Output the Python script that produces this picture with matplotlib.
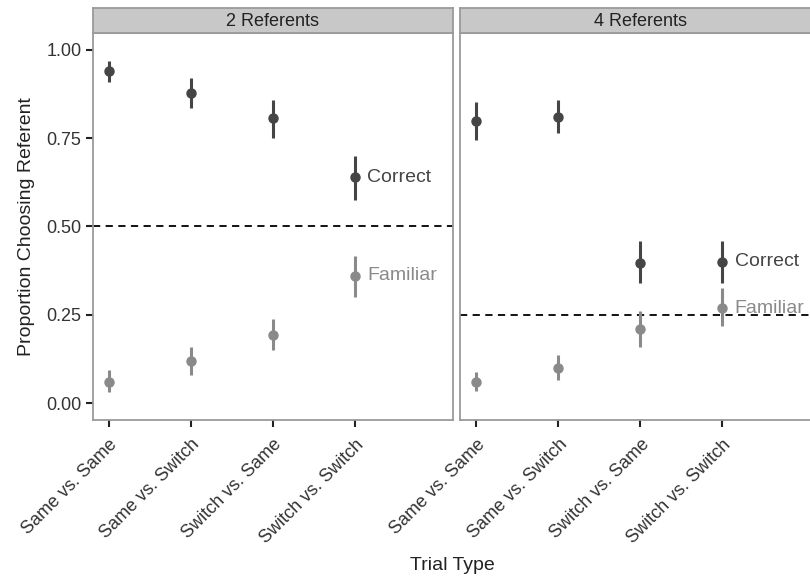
import matplotlib.pyplot as plt
import numpy as np

plt.rcParams['font.family'] = ['Liberation Sans', 'DejaVu Sans']

trial_types = ['Same vs. Same', 'Same vs. Switch', 'Switch vs. Same', 'Switch vs. Switch']
panels = ['2 Referents', '4 Referents']
chance = [0.5, 0.25]

# 2 referents
correct_2 = [0.94, 0.878, 0.807, 0.64]
correct_2_lo = [0.91, 0.835, 0.75, 0.575]
correct_2_hi = [0.97, 0.92, 0.858, 0.70]
familiar_2 = [0.06, 0.12, 0.193, 0.36]
familiar_2_lo = [0.031, 0.08, 0.15, 0.30]
familiar_2_hi = [0.093, 0.16, 0.237, 0.416]

# 4 referents
correct_4 = [0.80, 0.81, 0.398, 0.40]
correct_4_lo = [0.745, 0.765, 0.34, 0.34]
correct_4_hi = [0.853, 0.857, 0.46, 0.46]
familiar_4 = [0.06, 0.098, 0.21, 0.268]
familiar_4_lo = [0.033, 0.065, 0.16, 0.217]
familiar_4_hi = [0.087, 0.136, 0.262, 0.325]

series = [
    [(correct_2, correct_2_lo, correct_2_hi), (familiar_2, familiar_2_lo, familiar_2_hi)],
    [(correct_4, correct_4_lo, correct_4_hi), (familiar_4, familiar_4_lo, familiar_4_hi)],
]
series_names = ['Correct', 'Familiar']
series_colors = ['#454545', '#8a8a8a']

fig = plt.figure(figsize=(8.1, 5.77), dpi=100)

W, H = 810.0, 577.0
ax_top = 33
ax_bot = 420
lefts = [92.5, 460]
width = 360.5

x = np.arange(1, len(trial_types) + 1)

for p in range(2):
    ax = fig.add_axes([lefts[p] / W, 1 - ax_bot / H, width / W, (ax_bot - ax_top) / H])
    for s in range(2):
        vals, lo, hi = series[p][s]
        vals = np.array(vals)
        yerr = [vals - np.array(lo), np.array(hi) - vals]
        ax.errorbar(x, vals, yerr=yerr, fmt='o', color=series_colors[s],
                    ms=6.5, elinewidth=2.2, capsize=0, zorder=3)
        # label next to the last point
        ax.text(x[-1] + 0.15, vals[-1], series_names[s], color=series_colors[s],
                fontsize=14, va='center', ha='left', zorder=4)
    ax.axhline(chance[p], color='black', ls=(0, (4, 3)), lw=1.3, zorder=2)

    ax.set_xlim(0.8, 5.195)
    ax.set_ylim(-0.048, 1.048)
    ax.set_xticks(x)
    ax.set_xticklabels(trial_types, rotation=45, ha='right', va='top',
                       rotation_mode='anchor', fontsize=13, color='#333333')
    ax.set_yticks([0, 0.25, 0.5, 0.75, 1.0])
    if p == 0:
        ax.set_yticklabels(['0.00', '0.25', '0.50', '0.75', '1.00'],
                           fontsize=13, color='#333333')
        ax.set_ylabel('Proportion Choosing Referent', fontsize=14, color='#222222', labelpad=8)
    else:
        ax.tick_params(axis='y', left=False, labelleft=False)
    ax.tick_params(axis='both', direction='out', length=5, width=1.5, color='#222222', pad=3)
    ax.tick_params(axis='x', pad=6.5)
    for sp in ax.spines.values():
        sp.set_color('#9a9a9a')
        sp.set_linewidth(1.3)

    # facet strip
    st = fig.add_axes([lefts[p] / W, 1 - ax_top / H, width / W, 25 / H])
    st.set_facecolor('#c8c8c8')
    st.set_xticks([])
    st.set_yticks([])
    for sp in st.spines.values():
        sp.set_color('#9a9a9a')
        sp.set_linewidth(1.3)
    st.text(0.5, 0.48, panels[p], transform=st.transAxes, ha='center', va='center',
            fontsize=13, color='#222222')

fig.text(452 / W, 1 - 565 / H, 'Trial Type', ha='center', va='center',
         fontsize=14, color='#222222')

plt.savefig('out.png', dpi=100)
